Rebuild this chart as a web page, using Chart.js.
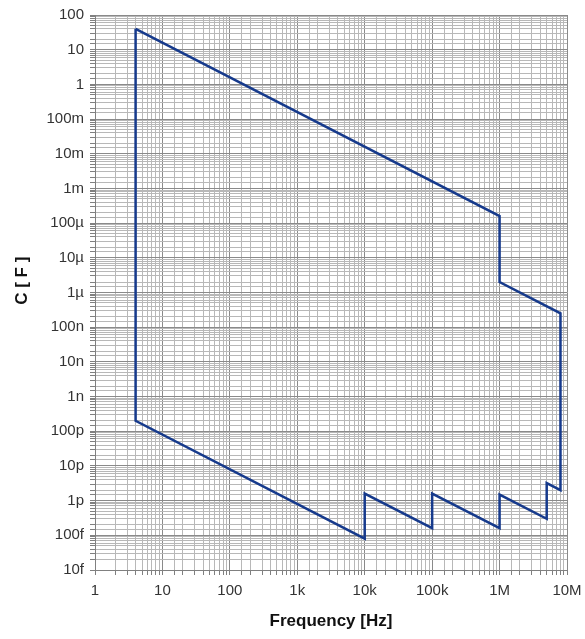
<!DOCTYPE html>
<html>
<head>
<meta charset="utf-8">
<script src="https://cdn.jsdelivr.net/npm/chart.js@4"></script>
<style>
  body { margin: 0; background: #fff; }
  #wrap { width: 585px; height: 639px; }
</style>
</head>
<body>
<div id="wrap"><canvas id="cChart"></canvas></div>
<script>
// measurable range outline, frequency [Hz] vs capacitance [F]
const freqHz = [4, 1e6, 1e6, 8e6, 8e6, 5e6, 5e6, 1e6, 1e6, 1e5, 1e5, 1e4, 1e4, 4, 4]
const capF = [40, 1.6e-4, 2e-6, 2.5e-7, 2e-12, 3.2e-12, 3e-13, 1.5e-12, 1.6e-13, 1.6e-12, 1.6e-13, 1.6e-12, 8e-14, 2e-10, 40]

const xTickLabels = { 0: '1', 1: '10', 2: '100', 3: '1k', 4: '10k', 5: '100k', 6: '1M', 7: '10M' }
const yTickLabels = {
    2: '100', 1: '10', 0: '1', '-1': '100m', '-2': '10m', '-3': '1m',
    '-4': '100µ', '-5': '10µ', '-6': '1µ', '-7': '100n', '-8': '10n', '-9': '1n',
    '-10': '100p', '-11': '10p', '-12': '1p', '-13': '100f', '-14': '10f'
}

const points = freqHz.map((f, i) => ({ x: f, y: capF[i] }))

function decade(v) {
    const e = Math.log10(v)
    const r = Math.round(e)
    return Math.abs(e - r) < 1e-6 ? r : null
}

function gridColor(ctx) {
    if (!ctx.tick) return '#909090'
    return decade(ctx.tick.value) !== null ? '#8a8a8a' : '#b8b8b8'
}

const font = { family: 'Liberation Sans, Arial, sans-serif', size: 15 }

var cChart = new Chart(
    document.getElementById('cChart'),
    {
        type: 'scatter',
        data: {
            datasets: [{
                data: points,
                showLine: true,
                borderColor: '#163a8c',
                borderWidth: 2.5,
                pointRadius: 0,
                fill: false
            }]
        },
        options: {
            responsive: true,
            maintainAspectRatio: false,
            animation: false,
            layout: { padding: { top: 15, right: 0, left: 0, bottom: 0 } },
            plugins: {
                legend: { display: false },
                tooltip: { enabled: false }
            },
            scales: {
                x: {
                    type: 'logarithmic',
                    min: 1,
                    max: 1e7,
                    afterFit: function (scale) {
                        scale.height = 69
                        scale.paddingLeft = 0
                        scale.paddingRight = 18   // plot ends near x=567 like the original
                    },
                    border: { color: '#808080' },
                    grid: { color: gridColor, lineWidth: 1, tickLength: 5, tickColor: '#808080' },
                    ticks: {
                        autoSkip: false,
                        maxRotation: 0,
                        color: '#333',
                        font: font,
                        padding: 7,
                        callback: function (value) {
                            const d = decade(value)
                            return d === null ? '' : xTickLabels[d]
                        }
                    },
                    title: {
                        display: true,
                        text: 'Frequency [Hz]',
                        color: '#111',
                        font: { family: font.family, size: 17, weight: 'bold' },
                        padding: { top: 4, bottom: 7 }
                    }
                },
                y: {
                    type: 'logarithmic',
                    min: 1e-14,
                    max: 100,
                    afterFit: function (scale) { scale.width = 95 },
                    border: { color: '#808080' },
                    grid: { color: gridColor, lineWidth: 1, tickLength: 5, tickColor: '#808080' },
                    ticks: {
                        autoSkip: false,
                        color: '#333',
                        font: font,
                        padding: 6,
                        callback: function (value) {
                            const d = decade(value)
                            return d === null ? '' : yTickLabels[d]
                        }
                    },
                    title: {
                        display: true,
                        text: '     C [ F ]',
                        color: '#111',
                        font: { family: font.family, size: 17, weight: 'bold' },
                        padding: { top: 12, bottom: 4 }
                    }
                }
            }
        }
    }
);
</script>
</body>
</html>
